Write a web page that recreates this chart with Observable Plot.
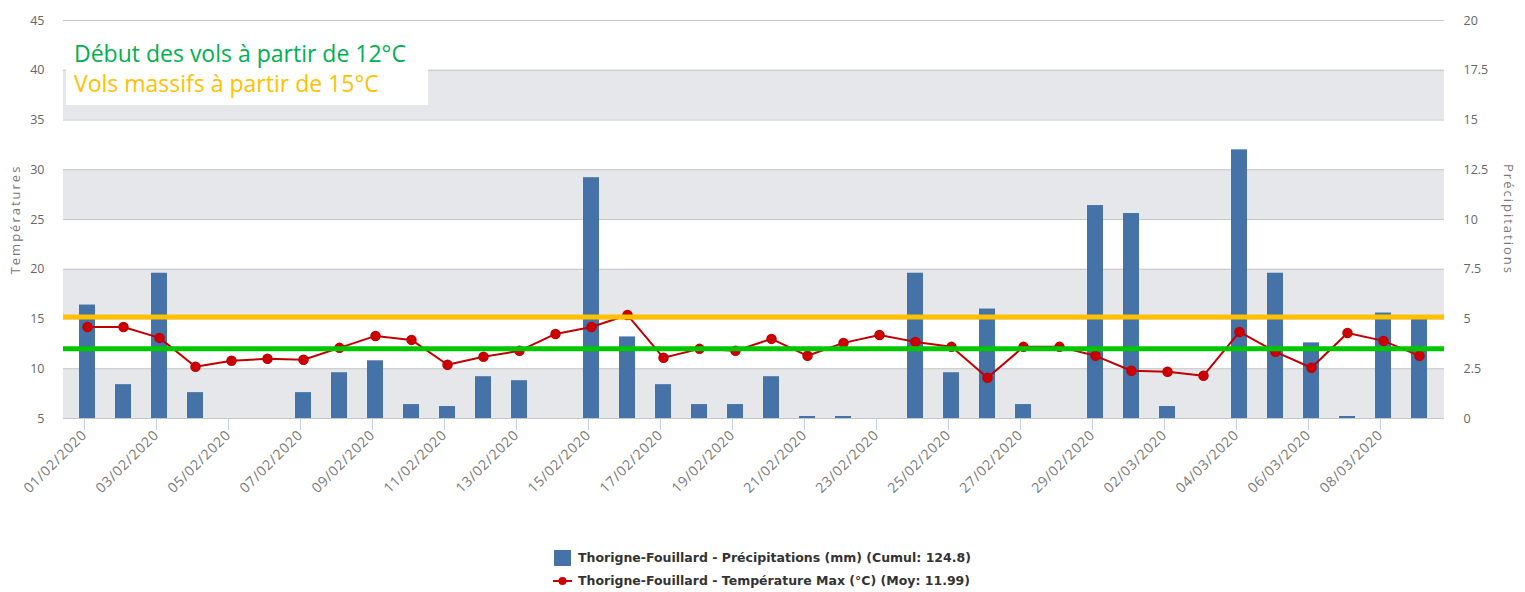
<!DOCTYPE html>
<html>
<head>
<meta charset="utf-8">
<script src="https://cdn.jsdelivr.net/npm/d3@7"></script>
<script src="https://cdn.jsdelivr.net/npm/@observablehq/plot@0.6"></script>
<style>
  body { margin: 0; background: #fff; }
  #wrap { position: relative; width: 1525px; height: 592px; overflow: hidden; }
  #note { position: absolute; left: 66px; top: 38px; width: 362px; height: 67px; background: #fff;
          font-family: "Open Sans", sans-serif; font-size: 23px; line-height: 30px; padding: 0 0 0 8px; box-sizing: border-box; }
  #legend { position: absolute; left: 553px; top: 546px; font-family: "DejaVu Sans", sans-serif; font-weight: bold;
            font-size: 12.5px; color: #333; }
  #legend .row { display: flex; align-items: center; height: 23px; }
  #legend .sw { width: 19px; margin-right: 6px; display: flex; align-items: center; justify-content: center; }
</style>
</head>
<body>
<div id="wrap">
  <div id="chart"></div>
  <div id="note"></div>
  <div id="legend"></div>
</div>
<script>
const dates = [
  "01/02/2020","02/02/2020","03/02/2020","04/02/2020","05/02/2020","06/02/2020","07/02/2020","08/02/2020",
  "09/02/2020","10/02/2020","11/02/2020","12/02/2020","13/02/2020","14/02/2020","15/02/2020","16/02/2020",
  "17/02/2020","18/02/2020","19/02/2020","20/02/2020","21/02/2020","22/02/2020","23/02/2020","24/02/2020",
  "25/02/2020","26/02/2020","27/02/2020","28/02/2020","29/02/2020","01/03/2020","02/03/2020","03/03/2020",
  "04/03/2020","05/03/2020","06/03/2020","07/03/2020","08/03/2020","09/03/2020"
];
const precipitations = [
  5.7, 1.7, 7.3, 1.3, 0, 0, 1.3, 2.3,
  2.9, 0.7, 0.6, 2.1, 1.9, 0, 12.1, 4.1,
  1.7, 0.7, 0.7, 2.1, 0.1, 0.1, 0, 7.3,
  2.3, 5.5, 0.7, 0, 10.7, 10.3, 0.6, 0,
  13.5, 7.3, 3.8, 0.1, 5.3, 5.0
];
const temperatures = [
  14.2, 14.2, 13.1, 10.2, 10.8, 11.0, 10.9, 12.1,
  13.3, 12.9, 10.4, 11.2, 11.8, 13.5, 14.2, 15.4,
  11.1, 12.0, 11.8, 13.0, 11.3, 12.6, 13.4, 12.7,
  12.2, 9.1, 12.2, 12.2, 11.3, 9.8, 9.7, 9.3,
  13.7, 11.7, 10.1, 13.6, 12.8, 11.3
];
const tempTicks = [5, 10, 15, 20, 25, 30, 35, 40, 45];
const precipTicks = [0, 2.5, 5, 7.5, 10, 12.5, 15, 17.5, 20];
const xTickLabels = dates.filter((d, i) => i % 2 === 0);
const thresholdGreen = 12;
const thresholdOrange = 15.2;
const axisTitles = ["Températures", "Précipitations"];
const noteLines = ["Début des vols à partir de 12°C", "Vols massifs à partir de 15°C"];
const seriesNames = [
  "Thorigne-Fouillard - Précipitations (mm) (Cumul: 124.8)",
  "Thorigne-Fouillard - Température Max (°C) (Moy: 11.99)"
];

const BLUE = "#4572A7", RED = "#C00000", GREEN = "#00C800", ORANGE = "#FFC000";

const data = dates.map((d, i) => ({date: d, precip: precipitations[i], temp: temperatures[i]}));
const precipToTemp = d3.scaleLinear([precipTicks[0], precipTicks[precipTicks.length - 1]],
                                    [tempTicks[0], tempTicks[tempTicks.length - 1]]);
const bands = [];
for (let i = 0; i < tempTicks.length - 1; i += 2) bands.push([tempTicks[i], tempTicks[i + 1]]);
const yMin = tempTicks[0];

const chart = Plot.plot({
  width: 1525,
  height: 540,
  marginLeft: 63,
  marginRight: 81,
  marginTop: 20,
  marginBottom: 122,
  style: {fontFamily: "'Open Sans', sans-serif", fontSize: "12px", color: "#666", background: "#fff"},
  x: {type: "band", domain: dates, paddingInner: 0.55, paddingOuter: 0.275, label: null},
  y: {domain: [tempTicks[0], tempTicks[tempTicks.length - 1]], label: null},
  marks: [
    Plot.rect(bands, {y1: d => d[0], y2: d => d[1], fill: "#E6E7EA"}),
    Plot.ruleY(tempTicks, {stroke: "#C6C6C6", strokeWidth: 1}),
    Plot.rect(data, {x: "date", y1: () => yMin, y2: d => precipToTemp(d.precip), fill: BLUE}),
    Plot.line(data, {x: "date", y: "temp", stroke: RED, strokeWidth: 2}),
    Plot.dot(data, {x: "date", y: "temp", r: 4.5, fill: "#CC0000", stroke: "#C00000"}),
    Plot.ruleY([thresholdOrange], {stroke: ORANGE, strokeWidth: 5}),
    Plot.ruleY([thresholdGreen], {stroke: GREEN, strokeWidth: 5}),
    Plot.axisY(tempTicks, {anchor: "left", tickSize: 0, tickPadding: 19, fill: "#666", fontSize: 12.5, label: null}),
    Plot.axisY(precipTicks.map(p => precipToTemp(p)), {anchor: "right", tickSize: 0, tickPadding: 19, fill: "#666", fontSize: 12.5,
      tickFormat: t => String(precipToTemp.invert(t)), label: null}),
    Plot.text([axisTitles[0]], {frameAnchor: "left", textAnchor: "middle", rotate: -90, dx: -48, fill: "#777", fontSize: 13}),
    Plot.text([axisTitles[1]], {frameAnchor: "right", textAnchor: "middle", rotate: 90, dx: 64, fill: "#777", fontSize: 13}),
    Plot.axisX(xTickLabels, {anchor: "bottom", tickSize: 12, stroke: "#C0D0E0", fill: "#777",
      tickRotate: -45, tickPadding: 2, dx: -3, label: null, fontSize: 14})
  ]
});
document.getElementById("chart").appendChild(chart);
d3.select(chart).selectAll("text")
  .filter(function() { return axisTitles.includes(this.textContent); })
  .style("letter-spacing", "2px");
d3.select(chart).selectAll("text")
  .filter(function() { return xTickLabels.includes(this.textContent); })
  .style("letter-spacing", "0.8px");

const note = d3.select("#note");
note.append("div").style("color", "#00B050").text(noteLines[0]);
note.append("div").style("color", ORANGE).text(noteLines[1]);

const legend = d3.select("#legend");
const r1 = legend.append("div").attr("class", "row");
r1.append("div").attr("class", "sw").append("div").style("width", "17px").style("height", "16px").style("background", BLUE);
r1.append("span").text(seriesNames[0]);
const r2 = legend.append("div").attr("class", "row");
const sv = r2.append("div").attr("class", "sw").append("svg").attr("width", 19).attr("height", 10);
sv.append("line").attr("x1", 0).attr("x2", 19).attr("y1", 5).attr("y2", 5).attr("stroke", RED).attr("stroke-width", 2);
sv.append("circle").attr("cx", 9.5).attr("cy", 5).attr("r", 4).attr("fill", "#CC0000");
r2.append("span").text(seriesNames[1]);
</script>
</body>
</html>
